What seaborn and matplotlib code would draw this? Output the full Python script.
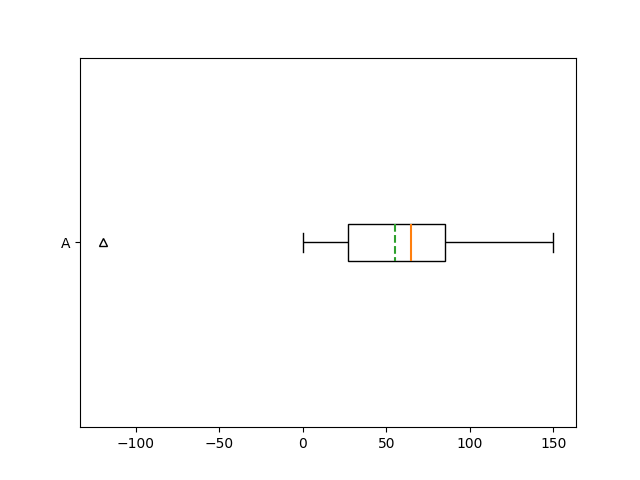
import matplotlib
matplotlib.use("Agg")
import matplotlib.pyplot as plt
import seaborn as sns
import pandas as pd

category = ["A"] * 9
values = [-120, 0, 27, 60, 64.5, 80, 85, 148.5, 150]

df = pd.DataFrame({"group": category, "value": values})

fig, ax = plt.subplots(figsize=(6.4, 4.8), dpi=100)
sns.boxplot(
    data=df, x="value", y="group", ax=ax,
    color="white", linecolor="black", linewidth=1, width=0.1,
    showmeans=True, meanline=True,
    medianprops=dict(color="#ff7f0e", linewidth=1.5),
    meanprops=dict(color="#2ca02c", linestyle="--", linewidth=1.5),
    flierprops=dict(marker="^", markerfacecolor="none", markeredgecolor="black", markersize=6),
    boxprops=dict(facecolor="white", edgecolor="black"),
)
ax.set_xlabel("")
ax.set_ylabel("")
ax.set_xticks([-100, -50, 0, 50, 100, 150])
ax.set_xticklabels(["\u2212100", "\u221250", "0", "50", "100", "150"])
fig.savefig("out.png", dpi=100)
